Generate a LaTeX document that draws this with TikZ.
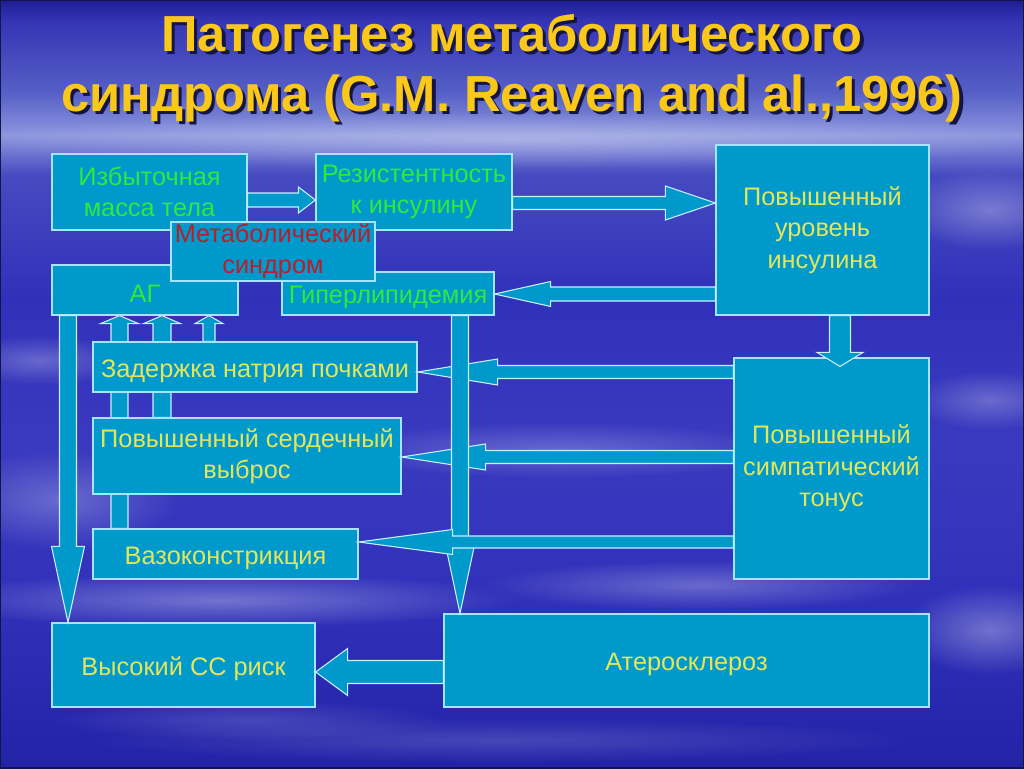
\documentclass[tikz,border=0pt]{standalone}
\usepackage{fontspec}
\setmainfont{Liberation Sans}
\usetikzlibrary{positioning,backgrounds,calc,fadings}

\definecolor{boxcyan}{RGB}{0,153,204}
\definecolor{boxedge}{RGB}{165,228,255}
\definecolor{arrowedge}{RGB}{200,240,255}
\definecolor{txtgreen}{RGB}{50,232,60}
\definecolor{txtyellow}{RGB}{228,230,90}
\definecolor{txtred}{RGB}{185,30,45}
\definecolor{titlegold}{RGB}{250,200,25}
\definecolor{titleshadow}{RGB}{20,20,70}
\definecolor{skyA}{RGB}{30,30,150}
\definecolor{skyB}{RGB}{52,52,180}
\definecolor{skyC}{RGB}{85,95,198}
\definecolor{skyD}{RGB}{140,150,222}
\definecolor{skyE}{RGB}{70,74,192}
\definecolor{skyF}{RGB}{48,48,186}
\definecolor{skyG}{RGB}{58,58,192}
\definecolor{skyH}{RGB}{35,35,168}

\pgfdeclareverticalshading{sky}{100bp}{color(0bp)=(skyH); color(25bp)=(skyH);
  color(36bp)=(skyF); color(46bp)=(skyG); color(55.5bp)=(skyF); color(63.6bp)=(skyE);
  color(66.2bp)=(skyD); color(69bp)=(skyC); color(73.7bp)=(skyB); color(75bp)=(skyA); color(100bp)=(skyA)}
\tikzfading[name=softblob, inner color=transparent!15, outer color=transparent!100]

% shadowed title line
\newcommand\shadowed[1]{\makebox[0pt][l]{\kern2.5pt\raisebox{-2.2pt}{\textcolor{titleshadow}{#1}}}#1}

% block arrow: from, tip, shaft half width, head half width, head length (px)
\newcommand\blockarrow[5]{%
  \path let \p1=(#1), \p2=(#2) in
    \pgfextra{\pgfmathsetmacro\arrang{atan2(\y2-\y1,\x2-\x1)}%
              \pgfmathsetmacro\arrlen{veclen(\x2-\x1,\y2-\y1)}%
              \xdef\arrang{\arrang}\xdef\arrlen{\arrlen}};
  \draw[arr, shift={(#1)}, rotate=\arrang]
    (0pt,{#3*0.75pt}) -- ({\arrlen pt-#5*0.75pt},{#3*0.75pt})
    -- ({\arrlen pt-#5*0.75pt},{#4*0.75pt}) -- ({\arrlen pt},0pt)
    -- ({\arrlen pt-#5*0.75pt},{-#4*0.75pt}) -- ({\arrlen pt-#5*0.75pt},{-#3*0.75pt})
    -- (0pt,{-#3*0.75pt}) -- cycle;
}

\begin{document}
\begin{tikzpicture}[
  x=0.75pt, y=-0.75pt,
  box/.style={rectangle, draw=boxedge, line width=0.9pt, fill=boxcyan, inner sep=0pt,
              align=center, font=\fontsize{19pt}{23.5pt}\selectfont,
              execute at begin node={\rule{0pt}{19pt}}},
  sz/.style 2 args={minimum width=#1*0.75pt, minimum height=#2*0.75pt},
  arr/.style={draw=arrowedge, line width=0.8pt, fill=boxcyan, line join=miter},
  titletext/.style={align=center, text=titlegold, font=\fontsize{38pt}{45pt}\selectfont\bfseries},
  cloud/.style={fill=white, path fading=softblob},
]
\useasboundingbox (0,0) rectangle (1024,768);

% === Sky ===
\begin{scope}[on background layer]
  \shade[shading=sky] (0,0) rectangle (1024,768);
  \foreach \cx/\cy/\rx/\ry/\op in {
      512/140/560/28/0.35, 990/210/90/40/0.35, 40/360/90/25/0.30,
      560/450/230/28/0.28, 990/400/80/30/0.30, 60/500/120/50/0.30,
      220/600/300/28/0.38, 700/585/220/25/0.32, 990/630/90/45/0.38,
      500/740/420/22/0.18, 250/720/200/20/0.18}
    \fill[cloud, opacity=\op] (\cx,\cy) ellipse [x radius=\rx, y radius=\ry];
  \draw[titleshadow, line width=1.5pt] (0,0) rectangle (1024,768);
\end{scope}

% === Title ===
\node[titletext] (title) at (512,70)
  {\shadowed{Патогенез метаболического}\\\shadowed{синдрома (G.M. Reaven and al.,1996)}};

% === Boxes ===
\node[box, sz={195}{76}, text=txtgreen] (mass) at (149.5,192) {Избыточная\\масса тела};
\node[box, sz={196}{76}, text=txtgreen] (resist) at (414,192) {Резистентность\\к инсулину};
\node[box, sz={213}{170}, text=txtyellow] (insulin) at (822.5,230) {Повышенный\\уровень\\инсулина};
\node[box, sz={186}{50}, text=txtgreen] (ag) at (145,290) {АГ};
\node[box, sz={212}{43}, text=txtgreen] (hyper) at (388,293.5) {Гиперлипидемия};
\node[box, sz={204}{59}, text=txtred] (metab) at (273,251.5) {Метаболический\\синдром};
\node[box, sz={324}{50}, text=txtyellow] (natrium) at (255,367) {Задержка натрия почками};
\node[box, sz={308}{76}, text=txtyellow] (cardiac) at (247,456) {Повышенный сердечный\\выброс};
\node[box, sz={265}{50}, text=txtyellow] (vaso) at (225.5,554) {Вазоконстрикция};
\node[box, sz={195}{221}, text=txtyellow] (sympat) at (831.5,468.5) {Повышенный\\симпатический\\тонус};
\node[box, sz={263}{84}, text=txtyellow] (risk) at (183.5,665) {Высокий СС риск};
\node[box, sz={485}{93}, text=txtyellow] (athero) at (686.5,660.5) {Атеросклероз};

% === Arrows into AG (behind boxes) ===
\begin{scope}[on background layer]
  \blockarrow{vaso.north -| 119.5,0}{ag.south -| 119.5,0}{8.5}{19}{8}
  \blockarrow{cardiac.north -| 162,0}{ag.south -| 162,0}{9}{18.5}{8}
  \blockarrow{natrium.north -| 209,0}{ag.south -| 209,0}{6}{14}{8}
\end{scope}

% === Arrows ===
\blockarrow{mass.east |- 0,200}{resist.west |- 0,200}{7}{13}{17}
\blockarrow{resist.east |- 0,203}{insulin.west |- 0,203}{6.5}{17}{50}
\blockarrow{insulin.west |- 0,294}{hyper.east |- 0,294}{7}{12.5}{56}
\blockarrow{insulin.south -| 840,0}{$(sympat.north -| 840,0)+(0,9)$}{10.5}{23}{14}
\blockarrow{sympat.west |- 0,372}{natrium.east |- 0,372}{6.5}{13}{80}
\blockarrow{sympat.west |- 0,457}{cardiac.east |- 0,457}{6.5}{13}{84}
\blockarrow{hyper.south -| 460,0}{athero.north -| 460,0}{8.5}{14}{66}
\blockarrow{sympat.west |- 0,542}{vaso.east |- 0,542}{6}{12.5}{94}
\blockarrow{ag.south -| 68,0}{risk.north -| 68,0}{8.5}{16.5}{76}
\blockarrow{athero.west |- 0,672}{risk.east |- 0,672}{11.5}{23.5}{32}

\end{tikzpicture}
\end{document}
